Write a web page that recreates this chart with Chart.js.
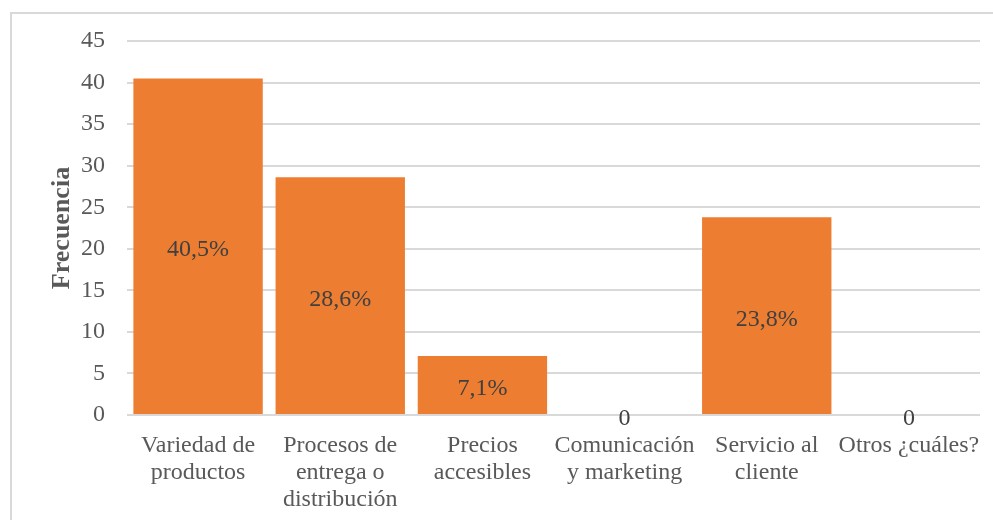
<!DOCTYPE html>
<html>
  <head>
    <title>Frecuencia</title>
    <meta charset="UTF-8">
    <script src="https://cdn.jsdelivr.net/npm/chart.js"></script>
    <style>
      html, body { margin: 0; padding: 0; background: #ffffff; }
      #wrap { width: 993px; height: 520px; }
    </style>
  </head>
  <body>
    <div id="wrap">
      <canvas id="freqChart" width="993" height="520"></canvas>
    </div>
    <script>
      // Categories (multi-line labels) and values
      const categories = [
        ['Variedad de', 'productos'],
        ['Procesos de', 'entrega o', 'distribución'],
        ['Precios', 'accesibles'],
        ['Comunicación', 'y marketing'],
        ['Servicio al', 'cliente'],
        ['Otros ¿cuáles?']
      ];
      const frecuencia = [40.5, 28.6, 7.1, 0, 23.8, 0];
      const yTicks = [0, 5, 10, 15, 20, 25, 30, 35, 40, 45];

      const barColor = '#ED7D31';
      const gridColor = '#d9d9d9';
      const textColor = '#595959';
      const serif = "'Liberation Serif', 'Times New Roman', serif";

      // value label inside each bar ("40,5%"), plain "0" for empty bars
      function fmtLabel(v) {
        if (v === 0) return '0';
        return v.toFixed(1).replace('.', ',') + '%';
      }

      const barLabels = {
        id: 'barLabels',
        afterDatasetsDraw(chart) {
          const ctx = chart.ctx;
          const meta = chart.getDatasetMeta(0);
          ctx.save();
          ctx.font = '24px ' + serif;
          ctx.fillStyle = '#404040';
          ctx.textAlign = 'center';
          ctx.textBaseline = 'middle';
          meta.data.forEach((bar, i) => {
            const v = chart.data.datasets[0].data[i];
            const cy = (bar.y + bar.base) / 2;
            ctx.fillText(fmtLabel(v), bar.x, cy + 4);
          });
          ctx.restore();
        }
      };

      // thin frame around the chart
      const frame = {
        id: 'frame',
        beforeDraw(chart) {
          const ctx = chart.ctx;
          ctx.save();
          ctx.strokeStyle = gridColor;
          ctx.lineWidth = 2;
          ctx.beginPath();
          ctx.moveTo(11, 530);
          ctx.lineTo(11, 13);
          ctx.lineTo(1000, 13);
          ctx.stroke();
          ctx.restore();
        }
      };

      const ctx = document.getElementById('freqChart').getContext('2d');
      new Chart(ctx, {
        type: 'bar',
        data: {
          labels: categories,
          datasets: [{
            label: 'Frecuencia',
            data: frecuencia,
            backgroundColor: barColor,
            borderWidth: 0,
            categoryPercentage: 1,
            barPercentage: 0.91
          }]
        },
        options: {
          responsive: false,
          animation: false,
          layout: { padding: { top: 41, right: 13, left: 0, bottom: 0 } },
          plugins: {
            legend: { display: false },
            tooltip: { enabled: false }
          },
          scales: {
            x: {
              grid: { display: false, drawTicks: false },
              border: { display: false },
              ticks: {
                color: textColor,
                font: { family: serif, size: 24, lineHeight: 1.13 },
                padding: 17,
                maxRotation: 0,
                autoSkip: false
              },
              afterFit(scale) {
                scale.height = 105;
                scale.paddingLeft = 0;
                scale.paddingRight = 0;
              }
            },
            y: {
              min: 0,
              max: 45,
              afterBuildTicks(scale) {
                scale.ticks = yTicks.map(v => ({ value: v }));
              },
              grid: { color: gridColor, lineWidth: 2, drawTicks: false },
              border: { display: false },
              ticks: {
                color: textColor,
                font: { family: serif, size: 24 },
                padding: 22
              },
              title: {
                display: true,
                text: 'Frecuencia',
                color: textColor,
                font: { family: serif, size: 26, weight: 'bold' },
                padding: { top: 47, bottom: 0 }
              },
              afterFit(scale) { scale.width = 127; }
            }
          }
        },
        plugins: [frame, barLabels]
      });
    </script>
  </body>
</html>
